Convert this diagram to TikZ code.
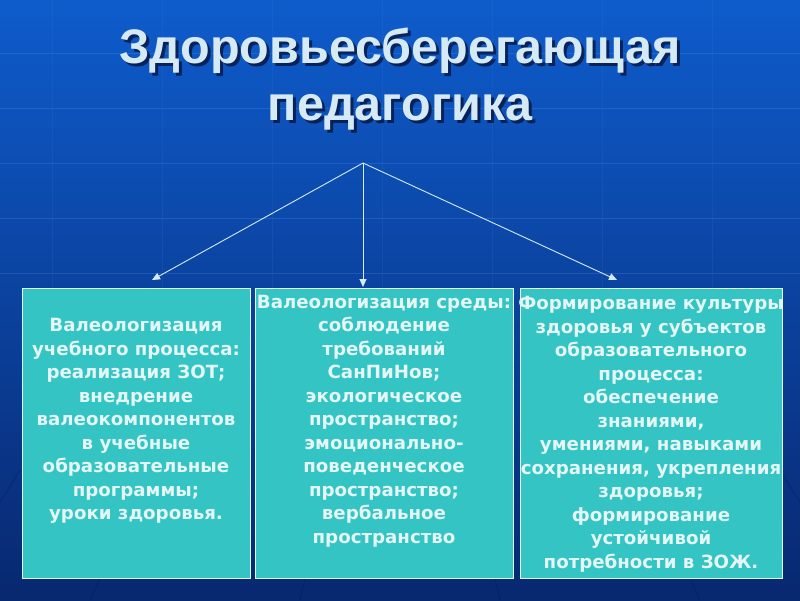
\documentclass[tikz,border=0pt]{standalone}
\usepackage{fontspec}
\setmainfont{Liberation Sans}
\newfontfamily\boxfont{DejaVu Sans}
\usetikzlibrary{arrows.meta}
\definecolor{bgtop}{RGB}{14,92,204}
\definecolor{bgmid}{RGB}{10,72,178}
\definecolor{bgbot}{RGB}{8,40,112}
\definecolor{tealbox}{RGB}{52,196,196}
\definecolor{boxtext}{RGB}{228,246,246}
\definecolor{titletext}{RGB}{214,234,246}
\definecolor{shadow}{RGB}{6,22,64}
\definecolor{gridline}{RGB}{70,140,230}
\begin{document}
\begin{tikzpicture}[x=1pt, y=-1pt,
  block/.style={draw=boxtext, line width=1pt, fill=tealbox, minimum height=290pt, inner sep=0pt},
  blocktext/.style={text=boxtext, align=center, inner sep=0pt, font=\boxfont\bfseries\fontsize{18.2}{23.5}\selectfont},
  headline/.style={anchor=base, font=\bfseries\fontsize{48.5}{52}\selectfont},
  link/.style={-{Triangle[length=8pt,width=7pt]}, color=titletext, line width=0.9pt}]
% background
\shade[top color=bgtop, middle color=bgmid, bottom color=bgbot] (0,0) rectangle (800,600);
\useasboundingbox (0,0) rectangle (800,600);
\foreach \y in {53,108,163,218,273} \draw[gridline, opacity=0.3, line width=0.6pt] (0,\y) -- (800,\y);
\foreach \x in {52,162,272,382,492,602,712} \draw[gridline, opacity=0.12, line width=0.6pt] (\x,0) -- (\x,290);
\foreach \x/\z in {-60/20,90/150,300/330,500/470,700/640,860/780} \draw[shadow, opacity=0.35, line width=0.8pt] (\x,600) -- (\z,470);
% title
\node[headline, text=shadow, opacity=0.8] at (403,66) {Здоровьесберегающая};
\node[headline, text=titletext] (title1) at (400,63) {Здоровьесберегающая};
\node[headline, text=shadow, opacity=0.8] at (403,123) {педагогика};
\node[headline, text=titletext] (title2) at (400,120) {педагогика};
% blocks
\node[block, minimum width=228pt] (B1) at (136,433) {};
\node[block, minimum width=258pt] (B2) at (384,433) {};
\node[block, minimum width=262pt] (B3) at (651,433) {};
\node[blocktext] (T1) at (136,421) {Валеологизация\\учебного процесса:\\реализация ЗОТ;\\внедрение\\валеокомпонентов\\в учебные\\образовательные\\программы;\\уроки здоровья.};
\node[blocktext] (T2) at (384,421) {Валеологизация среды:\\соблюдение\\требований\\СанПиНов;\\экологическое\\пространство;\\эмоционально-\\поведенческое\\пространство;\\вербальное\\пространство};
\node[blocktext] (T3) at (651,434) {Формирование культуры\\здоровья у субъектов\\образовательного\\процесса:\\обеспечение\\знаниями,\\умениями, навыками\\сохранения, укрепления\\здоровья;\\формирование\\устойчивой\\потребности в ЗОЖ.};
% arrows
\coordinate (apex) at (363,163);
\coordinate (L) at (152,280);
\coordinate (M) at (363,287);
\coordinate (R) at (617,280);
\path [link] (apex) edge (L);
\path [link] (apex) edge (M);
\path [link] (apex) edge (R);
\end{tikzpicture}
\end{document}
